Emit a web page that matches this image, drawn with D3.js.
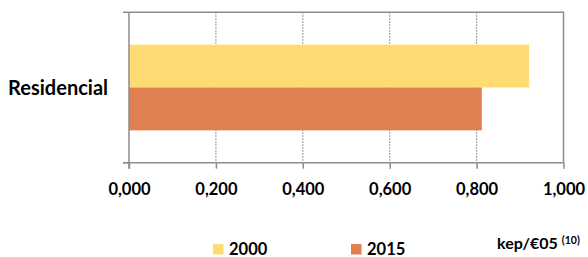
<!DOCTYPE html>
<html>
<head>
<meta charset="utf-8">
<script src="https://cdn.jsdelivr.net/npm/d3@7"></script>
<style>
  html, body { margin: 0; padding: 0; background: #fff; }
  svg { display: block; font-family: Lato, "Open Sans", sans-serif; font-weight: bold; }
</style>
</head>
<body>
<svg id="chart" width="588" height="257"></svg>
<script>
// data
const categories = ["Residencial"];
const series = ["2000", "2015"];
const values2000 = [0.921];
const values2015 = [0.812];
const xTicks = [0, 0.2, 0.4, 0.6, 0.8, 1.0];
const unitLabel = "kep/€05";
const unitNote = "(10)";

const colors = { "2000": "#ffdc73", "2015": "#e07f50" };
const axisGray = "#8c8c8c";

const svg = d3.select("#chart");

const plot = { left: 129, right: 563.5, top: 12.3, bottom: 162.7 };

const x = d3.scaleLinear().domain([0, 1]).range([plot.left, plot.right]);
const y0 = d3.scaleBand().domain(categories).range([plot.top, plot.bottom]);
const y1 = d3.scaleBand().domain(series).range([0, y0.bandwidth()]).paddingOuter(0.755);

const pt = d3.formatLocale({ decimal: ",", thousands: ".", grouping: [3], currency: ["€", ""] });
const fmt = pt.format(".3f");

// dotted grid lines
svg.append("g")
  .selectAll("line")
  .data(xTicks.filter(d => d > 0 && d < 1))
  .enter().append("line")
    .attr("x1", d => x(d)).attr("x2", d => x(d))
    .attr("y1", plot.top).attr("y2", plot.bottom)
    .attr("stroke", "#8a8a8a")
    .attr("stroke-width", 1.2)
    .attr("stroke-dasharray", "1.5,1.5");

// bars
const rows = categories.map((c, i) => ({ cat: c, vals: [
  { s: "2000", v: values2000[i] },
  { s: "2015", v: values2015[i] }
]}));

const groups = svg.append("g").selectAll("g")
  .data(rows).enter().append("g")
    .attr("transform", d => `translate(0,${y0(d.cat)})`);

groups.selectAll("rect")
  .data(d => d.vals).enter().append("rect")
    .attr("x", x(0))
    .attr("y", d => y1(d.s))
    .attr("width", d => x(d.v) - x(0))
    .attr("height", y1.bandwidth())
    .attr("fill", d => colors[d.s]);

// plot border (top + right)
svg.append("path")
  .attr("d", `M${plot.left},${plot.top}H${plot.right}V${plot.bottom}`)
  .attr("fill", "none").attr("stroke", axisGray).attr("stroke-width", 1.5);

// x axis
const xAxis = svg.append("g")
  .attr("transform", `translate(0,${plot.bottom})`)
  .call(d3.axisBottom(x).tickValues(xTicks).tickFormat(fmt).tickSizeInner(6).tickSizeOuter(0).tickPadding(15));
xAxis.select(".domain").attr("stroke", axisGray).attr("stroke-width", 1.5)
  .attr("d", `M${plot.left - 6},0H${plot.right}`);
xAxis.selectAll(".tick line").attr("stroke", axisGray).attr("stroke-width", 1.5);
xAxis.selectAll(".tick text").attr("fill", "#000").attr("font-size", 16.5).attr("font-weight", "bold")
  .attr("font-family", "Lato, 'Open Sans', sans-serif");

// y axis
const yAxis = svg.append("g")
  .attr("transform", `translate(${plot.left},0)`);
yAxis.append("line")
  .attr("x1", 0).attr("x2", 0).attr("y1", plot.top).attr("y2", plot.bottom + 6)
  .attr("stroke", axisGray).attr("stroke-width", 1.5);
yAxis.selectAll("line.edge")
  .data([y0.range()[0], y0.range()[1]]).enter().append("line")
    .attr("class", "edge")
    .attr("x1", -6).attr("x2", 0).attr("y1", d => d).attr("y2", d => d)
    .attr("stroke", axisGray).attr("stroke-width", 1.5);
yAxis.selectAll("text")
  .data(categories).enter().append("text")
    .attr("x", -21)
    .attr("y", d => y0(d) + y0.bandwidth() / 2)
    .attr("dy", "0.36em")
    .attr("text-anchor", "end")
    .attr("font-size", 20)
    .text(d => d);

// unit label
const unit = svg.append("text")
  .attr("x", 497).attr("y", 248.5)
  .attr("font-size", 16);
unit.append("tspan").text(unitLabel);
unit.append("tspan").attr("dx", 4).attr("dy", -5).attr("font-size", 10.5).text(unitNote);

// legend
const legendX = [213, 351];
const legend = svg.append("g").selectAll("g")
  .data(series).enter().append("g")
    .attr("transform", (d, i) => `translate(${legendX[i]},244)`);
legend.append("rect").attr("width", 10.5).attr("height", 10.5).attr("fill", d => colors[d]);
legend.append("text").attr("x", 16).attr("y", 11).attr("font-size", 16.5).text(d => d);
</script>
</body>
</html>
